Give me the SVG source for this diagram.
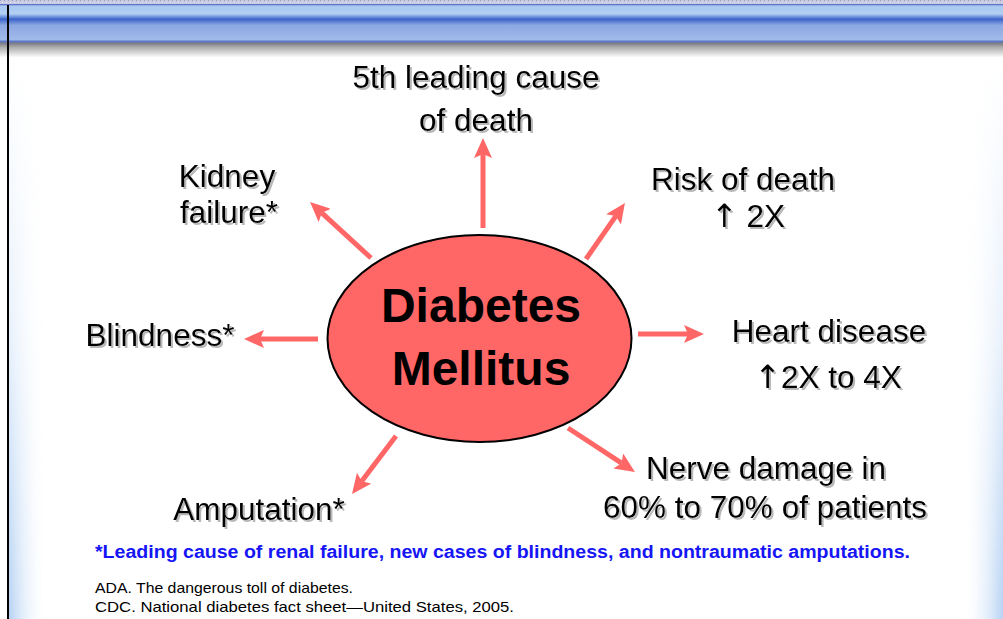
<svg xmlns="http://www.w3.org/2000/svg" width="1003" height="619" viewBox="0 0 1003 619">
<defs>
<linearGradient id="hdr" x1="0" y1="0" x2="0" y2="60" gradientUnits="userSpaceOnUse">
<stop offset="0.07" stop-color="#5563c4"/>
<stop offset="0.1" stop-color="#a9c8f0"/>
<stop offset="0.23" stop-color="#b2cff3"/>
<stop offset="0.32" stop-color="#3b63c9"/>
<stop offset="0.42" stop-color="#8ca8e2"/>
<stop offset="0.66" stop-color="#a2baea"/>
<stop offset="0.69" stop-color="#5a78c9"/>
<stop offset="0.72" stop-color="#7c7c86"/>
<stop offset="0.78" stop-color="#a8a8a8"/>
<stop offset="0.96" stop-color="#ffffff"/>
</linearGradient>
<pattern id="tex" width="4" height="4" patternUnits="userSpaceOnUse">
<rect width="4" height="4" fill="#c9cbe2"/>
<rect width="1" height="1" fill="#9a9cc4"/>
<rect x="2" y="2" width="1" height="1" fill="#e4e5f2"/>
</pattern>
<linearGradient id="lside" x1="0" y1="0" x2="1" y2="0">
<stop offset="0" stop-color="#b6d2f3"/>
<stop offset="1" stop-color="#ffffff" stop-opacity="0"/>
</linearGradient>
<linearGradient id="rside" x1="0" y1="0" x2="1" y2="0">
<stop offset="0" stop-color="#ffffff" stop-opacity="0"/>
<stop offset="1" stop-color="#b6d2f3"/>
</linearGradient>
<linearGradient id="vfade" x1="0" y1="0" x2="0" y2="1">
<stop offset="0" stop-color="#000"/>
<stop offset="0.5" stop-color="#555"/>
<stop offset="1" stop-color="#fff"/>
</linearGradient>
<mask id="fadeMask" maskUnits="userSpaceOnUse" x="0" y="60" width="1003" height="559">
<rect x="0" y="60" width="1003" height="559" fill="url(#vfade)"/>
</mask>
<marker id="ah" viewBox="0 0 20 18" refX="4" refY="9" markerWidth="20" markerHeight="18" markerUnits="userSpaceOnUse" orient="auto">
<path d="M0,0 L20,9 L0,18 L4,9 z" fill="#ff6666"/>
</marker>
<filter id="sh" x="-5%" y="-10%" width="110%" height="130%">
<feOffset in="SourceAlpha" dx="1.5" dy="1.5" result="o"/>
<feGaussianBlur in="o" stdDeviation="0.6" result="b"/>
<feFlood flood-color="#999999" flood-opacity="0.7"/>
<feComposite in2="b" operator="in" result="s"/>
<feMerge><feMergeNode in="s"/><feMergeNode in="SourceGraphic"/></feMerge>
</filter>
<style>
.lbl{font-family:"Liberation Sans",Arial,sans-serif;font-size:31.5px;fill:#000;text-anchor:middle;filter:url(#sh)}
.up{font-family:"DejaVu Sans",sans-serif;font-size:32px}
.title{font-family:"Liberation Sans",Arial,sans-serif;font-size:48px;font-weight:bold;fill:#000;text-anchor:middle}
.conn line{stroke:#ff6666;stroke-width:5;marker-end:url(#ah)}
.note{font-family:"Liberation Sans",Arial,sans-serif;font-size:18px;font-weight:bold;fill:#1515f5}
.ref{font-family:"Liberation Sans",Arial,sans-serif;font-size:15px;fill:#000}
</style>
</defs>
<rect width="1003" height="619" fill="#ffffff"/>
<g mask="url(#fadeMask)">
<rect x="9" y="60" width="38" height="559" fill="url(#lside)"/>
<rect x="962" y="60" width="41" height="559" fill="url(#rside)"/>
</g>
<rect x="0" y="0" width="1003" height="60" fill="url(#hdr)"/>
<rect x="0" y="0" width="1003" height="4" fill="url(#tex)"/>
<rect x="7" y="5" width="2" height="614" fill="#000"/>

<g class="conn" id="connectors">
<line x1="483" y1="228" x2="483" y2="154"/>
<line x1="371" y1="258" x2="321.8" y2="212.8"/>
<line x1="586" y1="259" x2="615.8" y2="216.1"/>
<line x1="638" y1="334" x2="688" y2="334"/>
<line x1="318" y1="339" x2="260" y2="339"/>
<line x1="396" y1="436" x2="361.7" y2="481.3"/>
<line x1="568" y1="428" x2="621.6" y2="463.2"/>
</g>

<g id="center">
<ellipse cx="479.5" cy="338.5" rx="152" ry="103.5" fill="#ff6666" stroke="#000" stroke-width="2"/>
<text class="title" x="481" y="322">Diabetes</text>
<text class="title" x="481" y="385">Mellitus</text>
</g>

<g id="n-death">
<text class="lbl" x="476" y="88">5th leading cause</text>
<text class="lbl" x="476" y="131">of death</text>
</g>
<g id="n-kidney">
<text class="lbl" x="227" y="187">Kidney</text>
<text class="lbl" x="229" y="223">failure*</text>
</g>
<g id="n-risk">
<text class="lbl" x="743" y="190">Risk of death</text>
<text class="lbl" x="748" y="227"><tspan class="up">↑</tspan> 2X</text>
</g>
<g id="n-blind">
<text class="lbl" x="160" y="346">Blindness*</text>
</g>
<g id="n-heart">
<text class="lbl" x="829" y="342">Heart disease</text>
<text class="lbl" x="828" y="388"><tspan class="up">↑</tspan>2X to 4X</text>
</g>
<g id="n-amp">
<text class="lbl" x="259" y="520">Amputation*</text>
</g>
<g id="n-nerve">
<text class="lbl" x="766" y="479">Nerve damage in</text>
<text class="lbl" x="765" y="518">60% to 70% of patients</text>
</g>

<g id="footnotes">
<text class="note" x="95" y="558" textLength="815" lengthAdjust="spacingAndGlyphs">*Leading cause of renal failure, new cases of blindness, and nontraumatic amputations.</text>
<text class="ref" x="95" y="593" textLength="258" lengthAdjust="spacingAndGlyphs">ADA. The dangerous toll of diabetes.</text>
<text class="ref" x="95" y="612" textLength="419" lengthAdjust="spacingAndGlyphs">CDC. National diabetes fact sheet—United States, 2005.</text>
</g>
</svg>
